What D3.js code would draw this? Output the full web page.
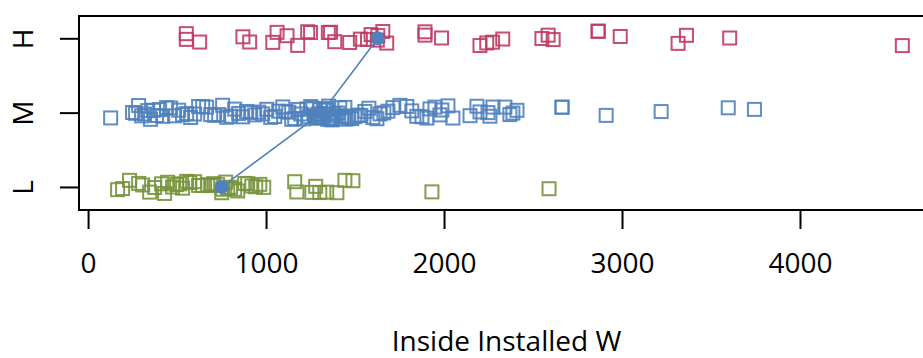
<!DOCTYPE html>
<html>
<head>
<meta charset="utf-8">
<script src="https://cdn.jsdelivr.net/npm/d3@7"></script>
<style>
  html, body { margin: 0; padding: 0; background: #fff; }
  svg { display: block; }
  text { font-family: "Open Sans", Lato, sans-serif; fill: #000; }
</style>
</head>
<body>
<svg id="chart" width="923" height="358"></svg>
<script>
// Group labels, bottom to top
const categories = ["L", "M", "H"];

// Inside installed power (W) per unit, by group
const valuesL = [166, 194, 233, 284, 307, 346, 374, 413, 430, 447, 475, 498, 515, 531,
  554, 571, 599, 621, 644, 672, 689, 706, 728, 751, 756, 773, 785, 801, 824, 841, 880,
  897, 920, 942, 965, 987, 1161, 1173, 1257, 1279, 1302, 1341, 1398, 1443, 1488, 1932, 2590];

const valuesM = [127, 250, 267, 284, 301, 318, 335, 351, 368, 385, 402, 419, 441, 464,
  486, 509, 531, 554, 576, 599, 621, 644, 666, 689, 711, 734, 756, 779, 801, 824, 846,
  869, 891, 914, 936, 959, 981, 1004, 1026, 1049, 1071, 1094, 1111, 1128, 1144, 1161,
  1178, 1195, 1212, 1229, 1240, 1251, 1263, 1274, 1279, 1285, 1291, 1296, 1302, 1308,
  1319, 1324, 1330, 1336, 1341, 1347, 1352, 1358, 1364, 1369, 1375, 1381, 1392, 1403,
  1414, 1426, 1437, 1443, 1448, 1465, 1482, 1499, 1516, 1533, 1555, 1578, 1600, 1623,
  1640, 1662, 1685, 1713, 1752, 1791, 1819, 1847, 1876, 1904, 1921, 1949, 1977, 1988,
  2022, 2050, 2146, 2185, 2202, 2247, 2258, 2275, 2342, 2370, 2387, 2410, 2663, 2663,
  2911, 3220, 3597, 3744];

const valuesH = [552, 552, 627, 870, 908, 1038, 1062, 1118, 1178, 1234, 1250, 1350,
  1362, 1386, 1470, 1530, 1570, 1590, 1625, 1628, 1656, 1678, 1893, 1893, 1986, 2202,
  2240, 2273, 2330, 2550, 2585, 2613, 2866, 2866, 2990, 3315, 3362, 3605, 4575];

const xTicks = [0, 1000, 2000, 3000, 4000];
const xTitle = "Inside Installed W";

const groups = [
  { name: "L", values: valuesL, color: "#77933C" },
  { name: "M", values: valuesM, color: "#4F81BD" },
  { name: "H", values: valuesH, color: "#BF3A62" }
];

const svg = d3.select("#chart");
const plot = { left: 79, right: 934, top: 16, bottom: 210 };

// x range padded by 4% on each side
const all = groups.flatMap(g => g.values);
const [lo, hi] = d3.extent(all);
const pad = (hi - lo) * 0.04;
const x = d3.scaleLinear().domain([lo - pad, hi + pad]).range([plot.left, plot.right]);
const y = d3.scaleLinear().domain([0.69, 3.3]).range([plot.bottom, plot.top]);

// deterministic vertical jitter of +/-0.1 group units
const jit = d3.randomUniform.source(d3.randomLcg(0.4217))(-0.1, 0.1);

const side = 13;
groups.slice().reverse().forEach(g => {
  const gi = categories.indexOf(g.name) + 1;
  svg.append("g")
    .selectAll("rect")
    .data(g.values)
    .join("rect")
    .attr("x", d => x(d) - side / 2)
    .attr("y", () => y(gi + jit()) - side / 2)
    .attr("width", side)
    .attr("height", side)
    .attr("fill", "none")
    .attr("stroke", g.color)
    .attr("stroke-opacity", 0.9)
    .attr("stroke-width", 2);
});

// medians joined by a line
const med = groups.map((g, i) => ({ v: d3.median(g.values), c: i + 1 }));
svg.append("path")
  .datum(med)
  .attr("fill", "none")
  .attr("stroke", "#4F81BD")
  .attr("stroke-width", 1.6)
  .attr("d", d3.line().x(d => x(d.v)).y(d => y(d.c)));
svg.append("g")
  .selectAll("circle")
  .data(med)
  .join("circle")
  .attr("cx", d => x(d.v))
  .attr("cy", d => y(d.c))
  .attr("r", 7)
  .attr("fill", "#4F81BD");

// frame
svg.append("rect")
  .attr("x", plot.left).attr("y", plot.top)
  .attr("width", plot.right - plot.left).attr("height", plot.bottom - plot.top)
  .attr("fill", "none").attr("stroke", "#000").attr("stroke-width", 2);

// x axis
const xa = svg.append("g").attr("transform", `translate(0,${plot.bottom})`)
  .call(d3.axisBottom(x).tickValues(xTicks).tickSize(19).tickPadding(24).tickFormat(d3.format("d")));
xa.select(".domain").remove();
xa.selectAll("line").attr("stroke", "#000").attr("stroke-width", 2);
xa.selectAll("text").attr("font-size", 28).attr("font-family", null);

// y axis
const ya = svg.append("g").attr("transform", `translate(${plot.left},0)`)
  .call(d3.axisLeft(y).tickValues([1, 2, 3]).tickSize(19).tickFormat(d => categories[d - 1]));
ya.select(".domain").remove();
ya.selectAll("line").attr("stroke", "#000").attr("stroke-width", 2);
ya.selectAll("text")
  .attr("font-size", 28).attr("font-family", null)
  .attr("x", null).attr("dy", null)
  .attr("text-anchor", "middle")
  .attr("transform", `translate(${33 - plot.left},0) rotate(-90)`);

// axis title
svg.append("text")
  .attr("x", (plot.left + plot.right) / 2)
  .attr("y", 351)
  .attr("text-anchor", "middle")
  .attr("font-size", 28)
  .text(xTitle);
</script>
</body>
</html>
